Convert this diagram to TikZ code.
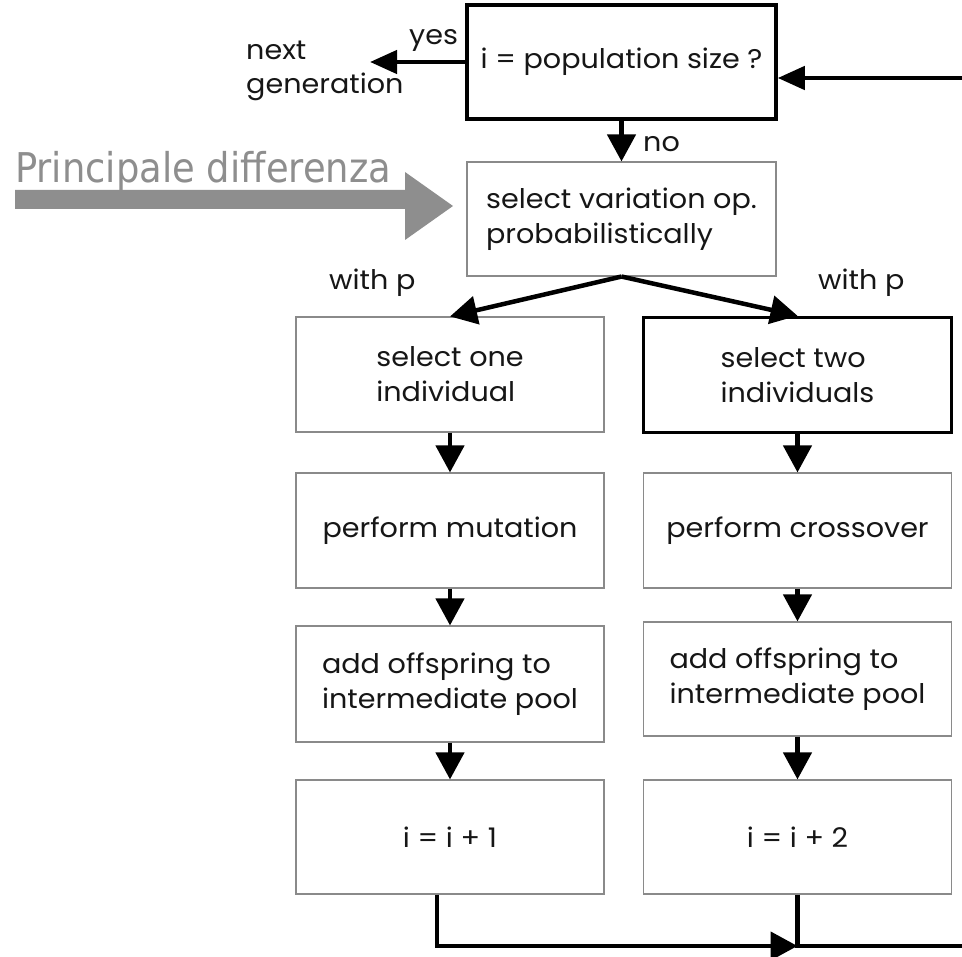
\documentclass[tikz,border=0pt]{standalone}
\usepackage{fontspec}
\usetikzlibrary{arrows.meta}
\newfontfamily\notefont[FakeStretch=0.9]{DejaVu Sans}
\newfontfamily\gothicfont[FakeStretch=1.06]{Poppins}
% geometric sans for the flowchart text
\newcommand\gothic{\gothicfont\fontsize{27}{35}\selectfont}
\definecolor{boxgray}{HTML}{8A8A8A}
\definecolor{notegray}{HTML}{8E8E8E}
\definecolor{ink}{HTML}{161616}
\tikzset{
  box/.style={draw=boxgray, line width=1.1pt, minimum width=308pt, minimum height=115pt,
    inner sep=0pt, align=left, font=\gothic, text=ink},
  boldbox/.style={box, draw=black, line width=3.5pt},
  arr/.style={draw=black, line width=4.5pt, -{Triangle[length=27pt,width=28pt]}},
  sidearr/.style={draw=black, line width=4.5pt, -{Triangle[length=27pt,width=23pt]}},
  wire/.style={draw=black, line width=4.5pt},
  lbl/.style={font=\gothic, text=ink, inner sep=0pt, anchor=base west},
}
\begin{document}
\begin{tikzpicture}[x=1pt,y=-1pt]
\useasboundingbox (0,0) rectangle (962,957);
\fill[white] (0,0) rectangle (962,957);

% decision and variation choice
\node[boldbox, minimum width=309pt, minimum height=114pt] (q) at (621.5,62) {i = population size ?};
\node[box, minimum width=309pt, minimum height=114pt] (sel) at (621.5,219) {select variation op.\\probabilistically};

% mutation branch
\node[box] (m1) at (450,374.5) {select one\\individual};
\node[box] (m2) at (450,530.5) {perform mutation};
\node[box, minimum height=116pt] (m3) at (450,684) {add offspring to\\intermediate pool};
\node[box, minimum height=114pt] (m4) at (450,837) {i = i + 1};

% crossover branch
\node[boldbox] (c1) at (797.5,375) {select two\\individuals};
\node[box] (c2) at (797.5,530.5) {perform crossover};
\node[box, minimum height=114pt] (c3) at (797.5,679) {add offspring to\\intermediate pool};
\node[box, minimum height=114pt] (c4) at (797.5,837) {i = i + 2};

% labels
\node[lbl] (yes) at (409,45) {yes};
\node[lbl] (next1) at (246,60) {next};
\node[lbl] (next2) at (246,94) {generation};
\node[lbl] (no) at (643,152) {no};
\node[lbl] (pm) at (329,290) {with p};
\node[lbl] (pc) at (818,290) {with p};

% emphasis arrow with its caption
\node[anchor=base west, inner sep=0pt, text=notegray, font=\notefont\fontsize{41}{48}\selectfont]
  (diff) at (15,183) {Principale differenza};
\fill[notegray] (15,190) -- (405,190) -- (405,172) -- (453,206) -- (405,240)
  -- (405,209) -- (15,209) -- cycle;

% connectors
\coordinate (ng) at (370,62);
\coordinate (ret) at (962,78);
\coordinate (j) at (797.5,946);
\coordinate (out) at (962,946);

\draw[sidearr] (q.west) -- (ng);
\draw[sidearr] (ret) -- (ret -| q.east);
\draw[arr] (q.south) -- (sel.north);
\draw[arr] (sel.south) -- (m1.north);
\draw[arr] (sel.south) -- (c1.north);

\draw[arr] (m1.south) -- (m2.north);
\draw[arr] (m2.south) -- (m3.north);
\draw[arr] (m3.south) -- (m4.north);
\draw[arr] (c1.south) -- (c2.north);
\draw[arr] (c2.south) -- (c3.north);
\draw[arr] (c3.south) -- (c4.north);

\draw[arr, line join=miter] ([xshift=-13pt]m4.south) |- (j);
\draw[wire, line join=miter] (c4.south) -- (j) -- (out);
\end{tikzpicture}
\end{document}
